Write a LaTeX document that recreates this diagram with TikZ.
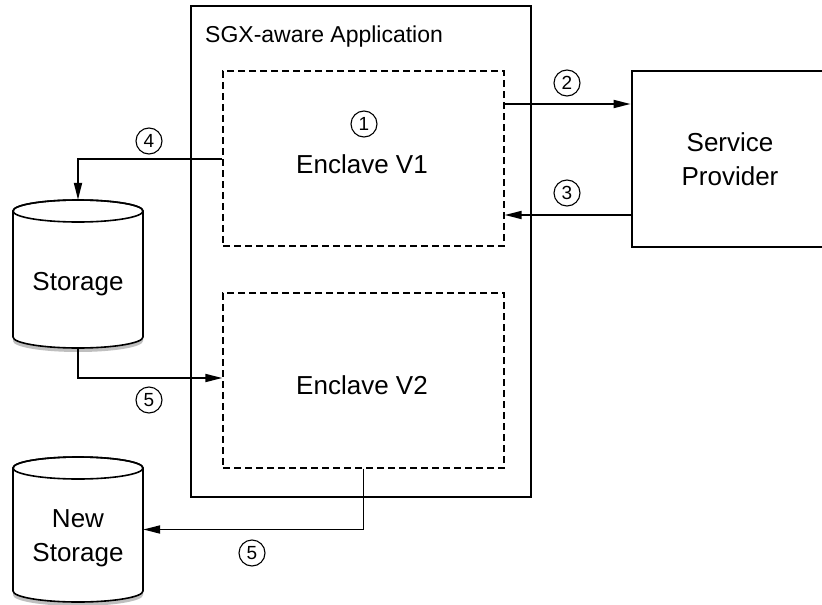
\documentclass[tikz,border=0pt]{standalone}
\usepackage{fontspec}
\setmainfont{Liberation Sans}
\usetikzlibrary{arrows.meta}
\begin{document}
\begin{tikzpicture}[x=1pt,y=-1pt,
  appbox/.style={draw, line width=2.8pt, inner sep=0pt},
  encbox/.style={draw, line width=1.4pt, dash pattern=on 7pt off 4pt, minimum width=281pt, minimum height=175pt, inner sep=0pt},
  lbl/.style={font=\fontsize{26}{34}\selectfont, align=center, inner sep=0pt},
  num/.style={draw, circle, line width=1.1pt, minimum size=26pt, inner sep=0pt, font=\fontsize{19}{19}\selectfont},
  arr/.style={line width=1.8pt, -{Triangle[length=17pt,width=8pt]}},
  cyl/.style={fill=white, draw, line width=1.6pt},
  shad/.style={fill=black!25},
  holder/.style={inner sep=0pt, minimum width=130pt}
]
\useasboundingbox (0,0) rectangle (822,605);
\clip (0,0) rectangle (822,605);
\fill[white] (0,0) rectangle (822,605);

% level coordinates
\coordinate (y2) at (0,104);
\coordinate (y3) at (0,215);
\coordinate (y4) at (0,159);
\coordinate (y5) at (0,378);

% application box
\node[appbox, minimum width=340pt, minimum height=491pt] (app) at (361,251.5) {};
\node[anchor=base west, inner sep=0pt, font=\fontsize{23}{28}\selectfont] (apptitle) at (205,42) {SGX-aware Application};

% enclaves
\node[encbox] (e1) at (363.5,158.5) {};
\node[encbox] (e2) at (363.5,380.5) {};
\node[lbl, anchor=base] (e1l) at (362,173) {Enclave V1};
\node[lbl, anchor=base] (e2l) at (362,394) {Enclave V2};
\node[num] (n1) at (364,124) {1};

% service provider (right edge lies outside the picture)
\node[appbox, minimum width=196pt, minimum height=176pt, lbl] (sp) at (730,159) {Service\\Provider};

% storage cylinder
\fill[shad] (13,332) -- (13,341) arc[start angle=180,end angle=360,x radius=65pt,y radius=11pt] -- (143,332) -- cycle;
\filldraw[cyl] (13,211) -- (13,337) arc[start angle=180,end angle=360,x radius=65pt,y radius=11pt] -- (143,211) arc[start angle=0,end angle=180,x radius=65pt,y radius=11pt] -- cycle;
\draw[line width=1.6pt] (78,211) ellipse[x radius=65pt,y radius=11pt];
\node[holder, minimum height=148pt] (stg) at (78,274) {};
\node[lbl, anchor=base] (stgl) at (78,290) {Storage};

% new storage cylinder
\fill[shad] (13,586) -- (13,595) arc[start angle=180,end angle=360,x radius=65pt,y radius=11pt] -- (143,586) -- cycle;
\filldraw[cyl] (13,468) -- (13,591) arc[start angle=180,end angle=360,x radius=65pt,y radius=11pt] -- (143,468) arc[start angle=0,end angle=180,x radius=65pt,y radius=11pt] -- cycle;
\draw[line width=1.6pt] (78,468) ellipse[x radius=65pt,y radius=11pt];
\node[holder, minimum height=145pt] (nst) at (78,529.5) {};
\node[lbl] (nstl) at (78,538.5) {New\\Storage};

% connectors
\draw[arr] (e1.east |- y2) -- (sp.west |- y2);
\node[num] (n2) at (567,83) {2};
\draw[arr] (sp.west |- y3) -- (e1.east |- y3);
\node[num] (n3) at (567,193) {3};
\draw[arr] (e1.west |- y4) -| (stg.north);
\node[num] (n4) at (149,141) {4};
\draw[arr] (stg.south) |- (e2.west |- y5);
\node[num] (n5a) at (149,400) {5};
\draw[arr] (e2.south) |- (nst.east);
\node[num] (n5b) at (252,553) {5};
\end{tikzpicture}
\end{document}
